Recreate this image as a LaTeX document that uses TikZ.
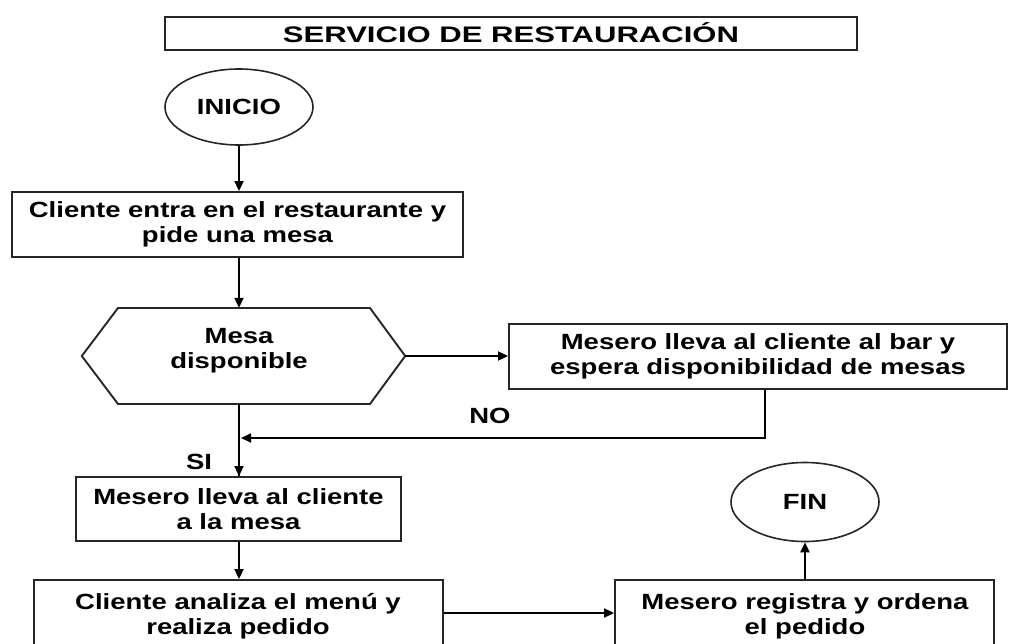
\documentclass[tikz,border=0pt]{standalone}
\usepackage{fontspec}
\setmainfont{Liberation Sans}[FakeStretch=1.25]
\newfontfamily\titlefont{Liberation Sans}[FakeStretch=1.38]
\usetikzlibrary{arrows.meta,shapes.geometric}
\begin{document}
\begin{tikzpicture}[x=1pt,y=-1pt,
  every node/.style={font=\fontsize{22}{25}\selectfont\bfseries, align=center, inner sep=0pt},
  procbox/.style={draw=black!85, line width=1.9pt, fill=white, rectangle},
  term/.style={draw=black!85, line width=1.6pt, fill=white, ellipse},
  conn/.style={line width=2pt, -{Triangle[length=10pt,width=9pt]}},
  plain/.style={line width=2pt}]
\useasboundingbox (0,0) rectangle (1012,643);
\clip (0,0) rectangle (1012,643);
% title
\node[procbox, minimum width=692pt, minimum height=33pt] (title) at (511,33.5) {};
\node[font=\fontsize{22.5}{25}\selectfont\titlefont\bfseries] (titletxt) at (511,33) {SERVICIO DE RESTAURACIÓN};
% terminals
\node[term, minimum width=148pt, minimum height=76pt] (ini) at (239,107) {INICIO};
\node[term, minimum width=148pt, minimum height=79pt] (fin) at (805,502) {FIN};
% boxes
\node[procbox, minimum width=451pt, minimum height=65pt] (box1) at (237.5,224.5) {Cliente entra en el restaurante y\\pide una mesa};
\node[minimum width=323pt, minimum height=96pt] (hex) at (243.5,356) {};
\draw[draw=black!85, line width=1.9pt, fill=white] (hex.west) -- (118,308) -- (370,308) -- (hex.east) -- (370,404) -- (118,404) -- cycle;
\node (hextxt) at (239,351) {Mesa\\disponible};
\node[procbox, minimum width=498pt, minimum height=65pt] (bar) at (758,356.5) {Mesero lleva al cliente al bar y\\espera disponibilidad de mesas};
\node[procbox, minimum width=325pt, minimum height=64pt] (mesa) at (238.5,509) {Mesero lleva al cliente\\a la mesa};
\node[procbox, minimum width=409pt, minimum height=90pt] (menu) at (238.5,625) {};
\node (menutxt) at (238,616) {Cliente analiza el menú y\\realiza pedido};
\node[procbox, minimum width=379pt, minimum height=90pt] (reg) at (804.5,625) {};
\node (regtxt) at (805,616) {Mesero registra y ordena\\el pedido};
% labels
\node (no) at (490,416) {NO};
\node (si) at (199,462) {SI};
% connectors
\coordinate (c) at (239,0);
\coordinate (nocorner) at (765,438);
\draw[conn] (ini.south) -- (ini.south |- box1.north);
\draw[conn] (box1.south -| c) -- (hex.north -| c);
\draw[conn] (hex.east) -- (bar.west |- hex.east);
\draw[plain] (hex.south -| c) -- (mesa.north -| c);
\draw[conn] (mesa.north -| c) ++(0,-10) -- (mesa.north -| c);
\draw[conn] (bar.south -| nocorner) -- (nocorner) -- ([xshift=2pt]nocorner -| c);
\draw[conn] (mesa.south -| c) -- (menu.north -| c);
\draw[conn] (menu.east |- 0,613) -- (reg.west |- 0,613);
\draw[conn] (reg.north -| fin) -- (fin.south);
\end{tikzpicture}
\end{document}
